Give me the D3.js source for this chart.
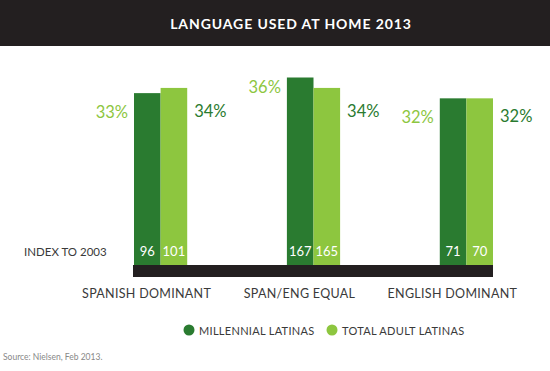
<!DOCTYPE html>
<html>
  <head>
    <meta charset="utf-8" />
    <title>Language used at home 2013</title>
    <script src="https://d3js.org/d3.v7.min.js"></script>
    <style>
        body {
            margin:0;
            background:#fff;
        }
        text {
            font-family: Lato, "Open Sans", sans-serif;
        }
    </style>
  </head>
  <body>
      <svg id="viz"></svg>

    <script>

        var categories = ["SPANISH DOMINANT", "SPAN/ENG EQUAL", "ENGLISH DOMINANT"];
        var series = ["MILLENNIAL LATINAS", "TOTAL ADULT LATINAS"];
        var millennialPct = [33, 36, 32];
        var totalPct = [34, 34, 32];
        var millennialIndex = [96, 167, 71];
        var totalIndex = [101, 165, 70];

        var width = 550;
        var height = 371;
        var dark = "#2a7b30";
        var light = "#8dc63f";
        var ink = "#231f20";

        var svg = d3.select("#viz")
          .attr("width", width)
          .attr("height", height);

        // header band
        svg.append("rect")
          .attr("x", 0).attr("y", 0)
          .attr("width", width).attr("height", 46)
          .attr("fill", ink);

        svg.append("text")
          .attr("x", 291).attr("y", 23)
          .attr("text-anchor", "middle")
          .attr("dominant-baseline", "central")
          .attr("fill", "#fff")
          .attr("font-size", 14)
          .attr("font-weight", 700)
          .attr("letter-spacing", 0.9)
          .text("LANGUAGE USED AT HOME 2013");

        var x = d3.scaleBand()
          .domain(categories)
          .range([134, 493])
          .paddingInner(0.652)
          .paddingOuter(0);

        var xs = d3.scaleBand()
          .domain(series)
          .range([0, x.bandwidth()]);

        var y = d3.scaleLinear()
          .domain([0, 36])
          .range([265, 77.5]);

        var rows = categories.map(function (c, i) {
          return {
            cat: c,
            vals: [
              {s: series[0], pct: millennialPct[i], idx: millennialIndex[i], color: dark},
              {s: series[1], pct: totalPct[i], idx: totalIndex[i], color: light}
            ]
          };
        });

        var groups = svg.selectAll("g.cat")
          .data(rows)
          .enter().append("g")
          .attr("class", "cat")
          .attr("transform", function (d) { return "translate(" + x(d.cat) + ",0)"; });

        groups.selectAll("rect")
          .data(function (d) { return d.vals; })
          .enter().append("rect")
          .attr("x", function (d) { return xs(d.s); })
          .attr("y", function (d) { return y(d.pct); })
          .attr("width", xs.bandwidth())
          .attr("height", function (d) { return y(0) - y(d.pct); })
          .attr("fill", function (d) { return d.color; });

        // index numbers inside bars
        groups.selectAll("text.idx")
          .data(function (d) { return d.vals; })
          .enter().append("text")
          .attr("class", "idx")
          .attr("x", function (d) { return xs(d.s) + xs.bandwidth() / 2; })
          .attr("y", y(0) - 14)
          .attr("text-anchor", "middle")
          .attr("dominant-baseline", "central")
          .attr("fill", "#fff")
          .attr("font-size", 13)
          .text(function (d) { return d.idx; });

        // percent labels (left one takes the light colour, right one the dark)
        groups.append("text")
          .attr("x", -6)
          .attr("y", function (d) {
            var m = d.vals[0].pct, t = d.vals[1].pct;
            return y(m) + (m > t ? 9 : 19);
          })
          .attr("text-anchor", "end")
          .attr("dominant-baseline", "central")
          .attr("fill", light)
          .attr("font-size", 16.5)
          .text(function (d) { return d.vals[0].pct + "%"; });

        groups.append("text")
          .attr("x", x.bandwidth() + 7)
          .attr("y", function (d) {
            var m = d.vals[0].pct, t = d.vals[1].pct;
            return y(t) + (m === t ? 18 : 23.5);
          })
          .attr("text-anchor", "start")
          .attr("dominant-baseline", "central")
          .attr("fill", dark)
          .attr("font-size", 16.5)
          .text(function (d) { return d.vals[1].pct + "%"; });

        // baseline bar
        svg.append("rect")
          .attr("x", x.range()[0] - 1)
          .attr("y", y(0))
          .attr("width", x.range()[1] - x.range()[0] + 1)
          .attr("height", 12)
          .attr("fill", ink);

        svg.append("text")
          .attr("x", 24).attr("y", y(0) - 14)
          .attr("dominant-baseline", "central")
          .attr("fill", "#3a3a3a")
          .attr("font-size", 11.5)
          .text("INDEX TO 2003");

        // category labels
        svg.selectAll("text.cat")
          .data(categories)
          .enter().append("text")
          .attr("class", "cat")
          .attr("x", function (d) { return x(d) + x.bandwidth() / 2 - 14; })
          .attr("y", 293)
          .attr("text-anchor", "middle")
          .attr("dominant-baseline", "central")
          .attr("fill", "#3a3a3a")
          .attr("font-size", 12.5)
          .attr("letter-spacing", 0.3)
          .text(function (d) { return d; });

        // legend
        var legendX = [189, 332];
        var legend = svg.selectAll("g.legend")
          .data(series)
          .enter().append("g")
          .attr("class", "legend")
          .attr("transform", function (d, i) { return "translate(" + legendX[i] + ",330)"; });

        legend.append("circle")
          .attr("r", 5.5)
          .attr("fill", function (d, i) { return i === 0 ? dark : light; });

        legend.append("text")
          .attr("x", 10)
          .attr("dominant-baseline", "central")
          .attr("fill", "#3a3a3a")
          .attr("font-size", 11)
          .attr("letter-spacing", 0.3)
          .text(function (d) { return d; });

        svg.append("text")
          .attr("x", 3).attr("y", 357)
          .attr("dominant-baseline", "central")
          .attr("fill", "#888")
          .attr("font-size", 8.5)
          .attr("font-family", "'Open Sans', sans-serif")
          .text("Source: Nielsen, Feb 2013.");

    </script>
  </body>
</html>
